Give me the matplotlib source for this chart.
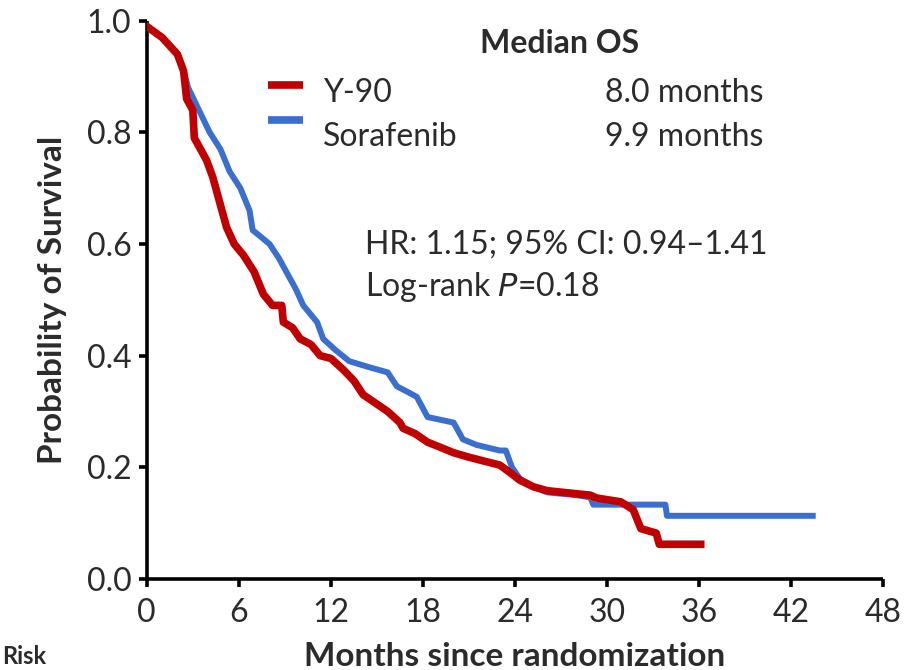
import matplotlib
matplotlib.use("Agg")
import matplotlib.pyplot as plt

plt.rcParams['font.family'] = ['Lato', 'DejaVu Sans']

# Kaplan-Meier estimates (months, survival probability)
y90_t = [0, 1.0, 2.0, 2.4, 2.6, 3.0, 3.1, 3.9, 4.3, 4.6, 5.2, 5.7, 6.3, 7.0, 7.6, 8.2, 8.8,
         8.9, 9.5, 10.0, 10.7, 11.3, 12.0, 12.8, 13.5, 14.1, 14.9, 15.7, 16.5, 16.7, 17.5,
         18.3, 19.2, 20.0, 21.0, 21.7, 23.0, 23.7, 24.3, 25.2, 26.1, 28.9, 29.3, 30.9,
         31.7, 32.2, 33.2, 33.4, 36.1]
y90_s = [0.99, 0.97, 0.94, 0.91, 0.86, 0.84, 0.79, 0.75, 0.72, 0.69, 0.63, 0.60, 0.58, 0.55,
         0.51, 0.49, 0.49, 0.46, 0.45, 0.43, 0.42, 0.40, 0.395, 0.375, 0.355, 0.33, 0.315,
         0.30, 0.28, 0.27, 0.26, 0.245, 0.235, 0.226, 0.218, 0.213, 0.204, 0.19, 0.177,
         0.165, 0.158, 0.150, 0.145, 0.138, 0.124, 0.090, 0.082, 0.062, 0.062]

sor_t = [0, 1.0, 2.0, 2.4, 2.7, 3.4, 4.1, 4.8, 5.4, 6.1, 6.7, 6.9, 8.0, 8.6, 9.1, 9.7, 10.2,
         11.1, 11.5, 12.3, 13.2, 14.4, 15.7, 16.3, 17.0, 17.6, 18.3, 20.0, 20.6, 21.5, 23.0,
         23.4, 23.8, 24.3, 25.2, 26.1, 28.0, 28.9, 29.1, 33.8, 33.9, 43.4]
sor_s = [0.99, 0.97, 0.94, 0.91, 0.88, 0.84, 0.80, 0.77, 0.73, 0.70, 0.66, 0.625, 0.60, 0.575,
         0.55, 0.52, 0.49, 0.46, 0.43, 0.41, 0.39, 0.38, 0.37, 0.345, 0.335, 0.326, 0.29,
         0.28, 0.25, 0.24, 0.23, 0.23, 0.20, 0.18, 0.165, 0.155, 0.15, 0.146, 0.133, 0.133,
         0.113, 0.113]

series_names = ['Y-90', 'Sorafenib']
median_os = ['8.0 months', '9.9 months']
x_ticks = [0, 6, 12, 18, 24, 30, 36, 42, 48]
y_ticks = [0.0, 0.2, 0.4, 0.6, 0.8, 1.0]

red = '#C00000'
blue = '#3A6FD0'
txt = '#2b2b2b'
fs = 23

fig = plt.figure(figsize=(9.23, 6.70), dpi=100)
ax = fig.add_axes([0.159, 0.136, 0.798, 0.833])

ax.plot(sor_t, sor_s, color=blue, lw=4.3, solid_joinstyle='round', zorder=3)
ax.plot(y90_t, y90_s, color=red, lw=5.5, solid_joinstyle='round', zorder=4)

ax.set_xlim(0, 48)
ax.set_ylim(0, 1.0)
ax.set_xticks(x_ticks)
ax.set_yticks(y_ticks)
ax.set_xticklabels([str(v) for v in x_ticks])
ax.set_yticklabels([f'{v:.1f}' for v in y_ticks])
for s in ['top', 'right']:
    ax.spines[s].set_visible(False)
for s in ['left', 'bottom']:
    ax.spines[s].set_linewidth(2.6)
    ax.spines[s].set_color('black')
    ax.spines[s].set_capstyle('butt')
ax.tick_params(axis='both', direction='out', length=6, width=2.6, labelsize=fs,
               labelcolor=txt)
ax.tick_params(axis='x', pad=8)
ax.tick_params(axis='y', pad=5)
ax.spines['left'].set_clip_on(False)
ax.spines['bottom'].set_clip_on(False)

ax.set_xlabel('Months since randomization', fontsize=24, fontweight='bold', color=txt, labelpad=10)
ax.set_ylabel('Probability of Survival', fontsize=24, fontweight='bold', color=txt, labelpad=14)

# legend / annotations
ax.text(0.452, 0.960, 'Median OS', transform=ax.transAxes, fontsize=fs, fontweight='bold',
        color=txt, ha='left', va='center')
ax.plot([0.164, 0.212], [0.885, 0.885], transform=ax.transAxes, color=red, lw=5.5,
        solid_capstyle='butt', clip_on=False)
ax.plot([0.164, 0.212], [0.823, 0.823], transform=ax.transAxes, color=blue, lw=5.5,
        solid_capstyle='butt', clip_on=False)
ax.text(0.239, 0.871, series_names[0], transform=ax.transAxes, fontsize=fs, color=txt,
        ha='left', va='center')
ax.text(0.239, 0.792, series_names[1], transform=ax.transAxes, fontsize=fs, color=txt,
        ha='left', va='center')
ax.text(0.837, 0.871, median_os[0], transform=ax.transAxes, fontsize=fs, color=txt,
        ha='right', va='center')
ax.text(0.837, 0.792, median_os[1], transform=ax.transAxes, fontsize=fs, color=txt,
        ha='right', va='center')
ax.text(0.296, 0.599, 'HR: 1.15; 95% CI: 0.94\u20131.41', transform=ax.transAxes, fontsize=fs,
        color=txt, ha='left', va='center')
ax.text(0.296, 0.523, 'Log-rank $\\it{P}$=0.18', transform=ax.transAxes, fontsize=fs,
        color=txt, ha='left', va='center')

fig.text(0.002, 0.003, 'Risk', fontsize=17, fontweight='bold', color=txt, ha='left', va='bottom')

fig.savefig('out.png', dpi=100, facecolor='white')
